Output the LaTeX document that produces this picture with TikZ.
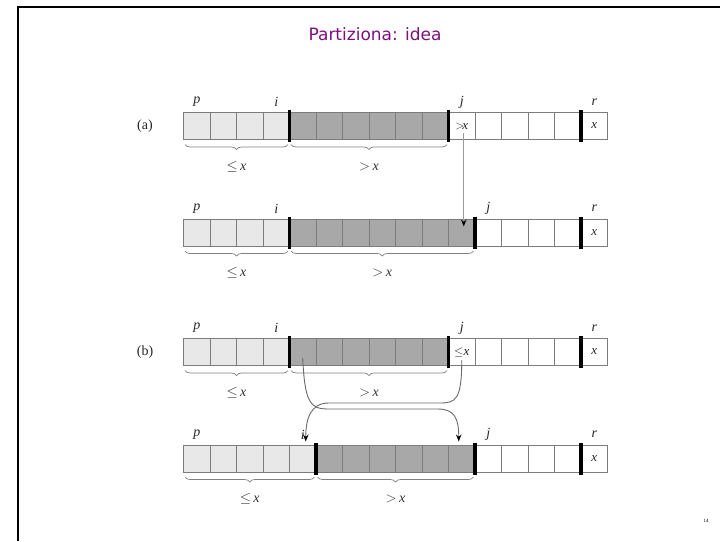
\documentclass[tikz,border=0pt]{standalone}
\usepackage{fontspec}
\setmainfont{Liberation Serif}
\usetikzlibrary{decorations.pathreplacing,arrows.meta,calc}
\newfontfamily\titlefont{DejaVu Sans}
\definecolor{lightcell}{HTML}{E8E8E8}
\definecolor{darkcell}{HTML}{A8A8A8}
\definecolor{cellline}{HTML}{7C7C7C}
\definecolor{titlecol}{HTML}{7E107E}
\definecolor{arrowgray}{HTML}{9A9A9A}
\definecolor{curvegray}{HTML}{6A6A6A}

\tikzset{
  cell/.style={draw=cellline, line width=0.8pt, minimum width=26.5pt, minimum height=27pt, inner sep=0pt, outer sep=0pt},
  intext/.style={font=\fontsize{13}{14}\selectfont, text=black!85, inner sep=0pt},
  barline/.style={line width=3.8pt, black},
  lbl/.style={font=\fontsize{14}{16}\selectfont\itshape, text=black!85, inner sep=0pt},
  brc/.style={decorate, decoration={brace, mirror, amplitude=5pt}, draw=gray, line width=0.7pt},
  blbl/.style={font=\fontsize{14}{16}\selectfont, text=black!80, inner sep=0pt},
  tipblack/.style={-{Stealth[color=black, length=7pt, width=5.5pt]}},
}

\newcommand\drawarr[5]{%
  \foreach \k in {0,...,15}{%
    \ifnum\k<#3\relax\def\cellfill{lightcell}\else\ifnum\k<#4\relax\def\cellfill{darkcell}\else\def\cellfill{white}\fi\fi
    \node[cell, fill=\cellfill] (#1c\k) at ({183.5+(\k+0.5)*26.5},#2) {};
  }
  \node[intext] (#1t) at (#1c#4) {#5};
  \node[intext] (#1x) at (#1c15) {\textit{x}};
  \pgfmathtruncatemacro\il{#3-1}
  \pgfmathtruncatemacro\dl{#4-1}
  \draw[barline] ($(#1c#3.north west)+(0,-2.5)$) -- ($(#1c#3.south west)+(0,2.5)$);
  \draw[barline] ($(#1c#4.north west)+(0,-2.5)$) -- ($(#1c#4.south west)+(0,2.5)$);
  \draw[barline] ($(#1c15.north west)+(0,-2.5)$) -- ($(#1c15.south west)+(0,2.5)$);
  \node[lbl] (#1p) at ($(#1c0.center)+(0,-24)$) {p};
  \node[lbl] (#1i) at ($(#1c\il.center)+(0,-24)$) {i};
  \node[lbl] (#1j) at ($(#1c#4.center)+(0,-24)$) {j};
  \node[lbl] (#1r) at ($(#1c15.center)+(0,-24)$) {r};
  \draw[brc] ($(#1c0.south west)+(1.5,5)$) -- ($(#1c\il.south east)+(-1.5,5)$);
  \draw[brc] ($(#1c#3.south west)+(1.5,5)$) -- ($(#1c\dl.south east)+(-1.5,5)$);
  \node[blbl] (#1le) at ($(#1c0.south west)!0.5!(#1c\il.south east)+(0,27)$) {$\leq$\,\textit{x}};
  \node[blbl] (#1gt) at ($(#1c#3.south west)!0.5!(#1c\dl.south east)+(0,27)$) {$>$\,\textit{x}};
}

\begin{document}
\begin{tikzpicture}[x=1pt,y=-1pt]
\useasboundingbox (0,0) rectangle (720,541);
\fill[white] (0,0) rectangle (720,541);
% slide frame
\draw[line width=2pt, black] (18,541) -- (18,7) -- (720,7);
% title
\node[font=\titlefont\fontsize{17}{20}\selectfont, text=titlecol] (title) at (375,34) {Partiziona: idea};
% page number
\node[font=\fontsize{5}{6}\selectfont] (pg) at (706,521) {14};

% case labels
\node[font=\fontsize{14}{16}\selectfont, text=black!85] (casea) at (145,126) {(a)};
\node[font=\fontsize{14}{16}\selectfont, text=black!85] (caseb) at (145,352) {(b)};

% arrays
\drawarr{a1}{126}{4}{10}{$>$\!\textit{x}}
\drawarr{a2}{232.5}{4}{11}{}
\drawarr{b1}{352}{4}{10}{$\leq$\textit{x}}
\drawarr{b2}{458.5}{5}{11}{}

% arrow (a)
\draw[arrowgray, line width=1pt, tipblack] ($(a1c10.center)+(2,7)$) -- ($(a2c10.center)+(2,-6)$);

% swap arrows (b)
\draw[curvegray, line width=0.9pt, tipblack]
  ($(b1c4.center)+(0,6)$) .. controls ($(b1c4.center)+(2,52)$) and ($(b1c4.center)+(8,57)$) ..
  ($(b1c4.center)+(26,57)$) -- ($(b2c10.center)+(-24,-49.5)$)
  .. controls ($(b2c10.center)+(-7,-49.5)$) and ($(b2c10.center)+(-3,-40)$) .. ($(b2c10.center)+(-3,-17)$);
\draw[curvegray, line width=0.9pt, tipblack]
  ($(b1c10.center)+(0,8)$) .. controls ($(b1c10.center)+(0,48)$) and ($(b1c10.center)+(-6,51)$) ..
  ($(b1c10.center)+(-22,51)$) -- ($(b2c4.center)+(26,-55.5)$)
  .. controls ($(b2c4.center)+(8,-55.5)$) and ($(b2c4.center)+(3,-40)$) .. ($(b2c4.center)+(3,-17)$);
\end{tikzpicture}
\end{document}
